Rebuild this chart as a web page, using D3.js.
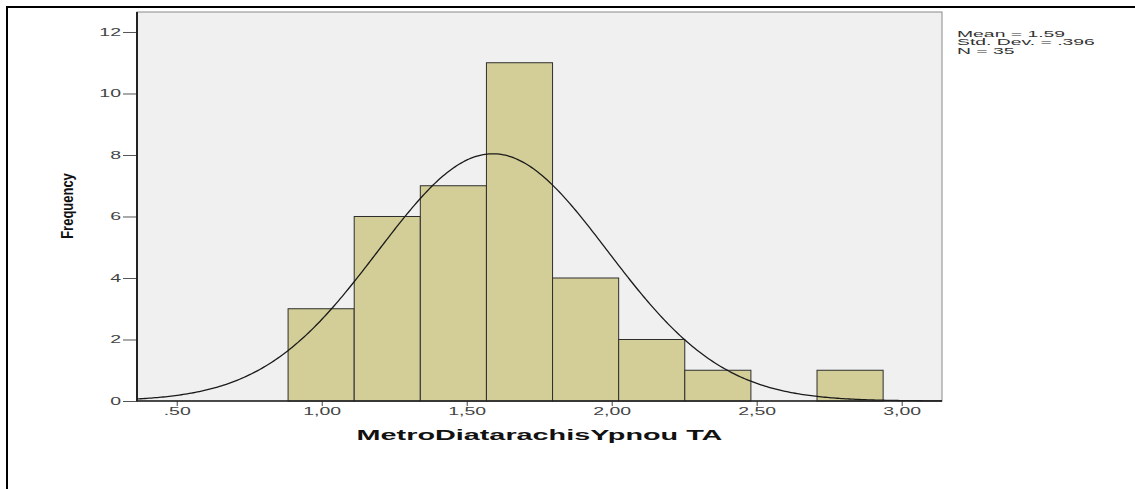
<!DOCTYPE html>
<html>
<head>
<meta charset="utf-8">
<script src="https://cdn.jsdelivr.net/npm/d3@7"></script>
<style>
  body { margin: 0; background: #fff; }
  svg { display: block; font-family: Arial, "Liberation Sans", sans-serif; }
</style>
</head>
<body>
<svg id="chart" width="1135" height="489"></svg>
<script>
// histogram counts
var counts = [3, 6, 7, 11, 4, 2, 1, 0, 1];
var binStart = 0.884;
var binWidth = 0.228;
var yTicks = [0, 2, 4, 6, 8, 10, 12];
var xTicks = [0.5, 1, 1.5, 2, 2.5, 3];
var xTickLabels = [".50", "1,00", "1,50", "2,00", "2,50", "3,00"];
var statLines = ["Mean = 1.59", "Std. Dev. = .396", "N = 35"];
var mean = 1.59, stdDev = 0.396, nCases = 35;

var svg = d3.select('#chart');
var sx = 1.95; // the original is stretched sideways, text too

var plotLeft = 137, plotRight = 942, plotTop = 12, plotBottom = 401;
var x = d3.scaleLinear().domain([0.363, 3.139]).range([plotLeft, plotRight]);
var y = d3.scaleLinear().domain([0, 12.65]).range([plotBottom, plotTop]);

// page frame (table cell border)
svg.append('line').attr('x1', 6).attr('y1', 7).attr('x2', 1135).attr('y2', 7)
    .attr('stroke', '#000').attr('stroke-width', 2);
svg.append('line').attr('x1', 7).attr('y1', 6).attr('x2', 7).attr('y2', 489)
    .attr('stroke', '#000').attr('stroke-width', 2);

// plot area
svg.append('rect')
    .attr('x', plotLeft).attr('y', plotTop)
    .attr('width', plotRight - plotLeft).attr('height', plotBottom - plotTop)
    .attr('fill', '#f0f0f0').attr('stroke', '#8a8a8a').attr('stroke-width', 1);

var bins = counts.map(function (c, i) {
    return {x0: binStart + i * binWidth, x1: binStart + (i + 1) * binWidth, count: c};
});

svg.append('g').selectAll('rect')
    .data(bins.filter(function (d) { return d.count > 0; }))
    .enter()
    .append('rect')
    .attr('x', function (d) { return x(d.x0); })
    .attr('y', function (d) { return y(d.count); })
    .attr('width', function (d) { return x(d.x1) - x(d.x0); })
    .attr('height', function (d) { return y(0) - y(d.count); })
    .attr('fill', '#d3ce97')
    .attr('stroke', '#2e2e2e')
    .attr('stroke-width', 1);

// fitted normal curve
var curvePts = d3.range(0, 401).map(function (i) {
    var v = 0.363 + (3.139 - 0.363) * i / 400;
    var z = (v - mean) / stdDev;
    var f = nCases * binWidth * Math.exp(-0.5 * z * z) / (stdDev * Math.sqrt(2 * Math.PI));
    return [v, f];
});
svg.append('path')
    .datum(curvePts)
    .attr('fill', 'none')
    .attr('stroke', '#1a1a1a')
    .attr('stroke-width', 1.3)
    .attr('d', d3.line().x(function (d) { return x(d[0]); }).y(function (d) { return y(d[1]); }));

// axes
var yAxis = svg.append('g').attr('transform', 'translate(' + plotLeft + ',0)')
    .call(d3.axisLeft(y).tickValues(yTicks).tickSize(14).tickFormat(d3.format('d')));
yAxis.select('.domain').remove();
yAxis.selectAll('.tick line').attr('stroke', '#555');
yAxis.selectAll('.tick text')
    .attr('x', -16 / sx)
    .attr('transform', 'scale(' + sx + ',1)')
    .attr('fill', '#444')
    .style('font-size', '10px');

var xAxis = svg.append('g').attr('transform', 'translate(0,' + plotBottom + ')')
    .call(d3.axisBottom(x).tickValues(xTicks).tickSize(5)
        .tickFormat(function (d, i) { return xTickLabels[i]; }));
xAxis.select('.domain').remove();
xAxis.selectAll('.tick line').attr('stroke', '#444');
xAxis.selectAll('.tick text')
    .attr('y', 7)
    .attr('transform', 'scale(' + sx + ',1)')
    .attr('fill', '#444')
    .style('font-size', '10px');

svg.append('line').attr('x1', plotLeft).attr('y1', plotTop).attr('x2', plotLeft).attr('y2', plotBottom + 0.5)
    .attr('stroke', '#222').attr('stroke-width', 2);
svg.append('line').attr('x1', plotLeft).attr('y1', plotBottom).attr('x2', plotRight).attr('y2', plotBottom)
    .attr('stroke', '#222').attr('stroke-width', 1.5);

// axis titles
svg.append('text')
    .attr('transform', 'translate(' + ((plotLeft + plotRight) / 2) + ',440) scale(1.92,1)')
    .attr('text-anchor', 'middle')
    .style('font-size', '15px')
    .style('font-weight', 'bold')
    .attr('fill', '#111')
    .text('MetroDiatarachisYpnou TA');

svg.append('text')
    .attr('transform', 'translate(73,206) scale(1.2,1) rotate(-90)')
    .attr('text-anchor', 'middle')
    .style('font-size', '13px')
    .style('font-weight', 'bold')
    .attr('fill', '#111')
    .text('Frequency');

// summary stats
svg.append('g').selectAll('text')
    .data(statLines)
    .enter()
    .append('text')
    .attr('transform', function (d, i) { return 'translate(957,' + (37 + i * 8.3) + ') scale(2.25,1)'; })
    .style('font-size', '8.6px')
    .attr('fill', '#333')
    .text(function (d) { return d; });
</script>
</body>
</html>
